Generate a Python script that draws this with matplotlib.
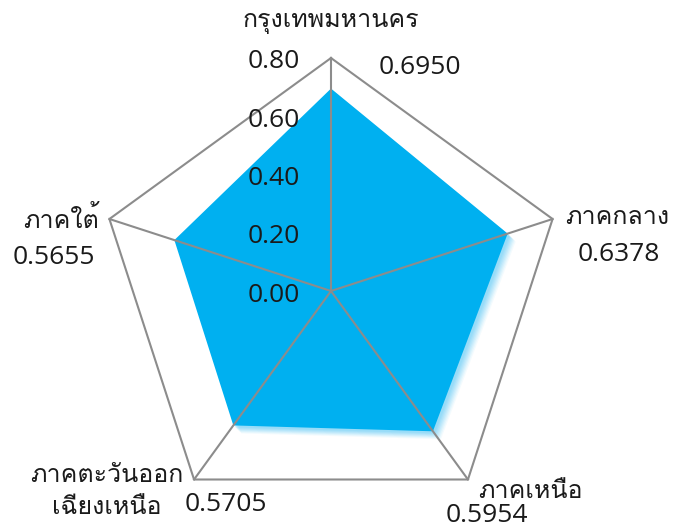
import numpy as np
import matplotlib
matplotlib.use("Agg")
import matplotlib.pyplot as plt
from matplotlib import font_manager
from matplotlib.ft2font import FT2Font
import matplotlib.transforms as mtransforms

categories = ["กรุงเทพมหานคร", "ภาคกลาง", "ภาคเหนือ", "ภาคตะวันออก\nเฉียงเหนือ", "ภาคใต้"]
values = [0.6950, 0.6378, 0.5954, 0.5705, 0.5655]
tick_values = [0.00, 0.20, 0.40, 0.60, 0.80]
tick_labels = ["0.00", "0.20", "0.40", "0.60", "0.80"]

# find a font with Thai glyphs
thai_fonts = []
seen = set()
for f in font_manager.fontManager.ttflist:
    if f.name in seen:
        continue
    try:
        cm = FT2Font(f.fname).get_charmap()
        if 0x0E01 in cm and 0x0E32 in cm:
            thai_fonts.append(f.name)
            seen.add(f.name)
    except Exception:
        pass
thai_fam = thai_fonts[:1] + ["DejaVu Sans"]
num_fam = ["Open Sans", "DejaVu Sans"]
plt.rcParams['font.family'] = thai_fam

W, H = 675, 532
fig = plt.figure(figsize=(W / 100, H / 100), dpi=100)
cx, cy, R = 331, 291, 233
ax = fig.add_axes([(cx - R) / W, (H - cy - R) / H, 2 * R / W, 2 * R / H], projection='polar')
ax.set_theta_offset(np.pi / 2)
ax.set_theta_direction(-1)
ax.set_ylim(0, 0.8)
ax.set_xticks([])
ax.set_yticks([])
ax.grid(False)
ax.spines['polar'].set_visible(False)
ax.patch.set_alpha(0)

n = len(categories)
theta = np.arange(n) * 2 * np.pi / n
tc = np.append(theta, theta[0])
vc = np.append(values, values[0])

# soft shadow
for dx, dy, a in [(8, -8, 0.08), (7, -7, 0.10), (6, -6, 0.12), (5, -5, 0.14),
                  (4, -4, 0.16), (3, -3, 0.18), (2, -2, 0.2)]:
    tr = ax.transData + mtransforms.Affine2D().translate(dx, dy)
    ax.fill(tc, vc, color='#66ccf5', alpha=a, lw=0, transform=tr, zorder=1)
ax.fill(tc, vc, color='#00B0F0', lw=0, zorder=2)

grid_color = '#8c8c8c'
outer = np.full(n + 1, 0.8)
ax.plot(tc, outer, color=grid_color, lw=1.5, zorder=3, clip_on=False)
for t in theta:
    ax.plot([t, t], [0, 0.8], color=grid_color, lw=1.5, zorder=3, clip_on=False)

fs_num = 19
fs_name = 18
tcol = '#1a1a1a'
for v, lab in zip(tick_values, tick_labels):
    ax.annotate(lab, xy=(0, v), xytext=(-31, -4), textcoords='offset pixels',
                ha='right', va='center', fontsize=fs_num, color=tcol, zorder=4,
                family=num_fam)

name_off = [(0, 36), (65, 1), (62, -12), (-87, -12), (-48, -1)]
val_off = [(89, -10), (66, -36), (19, -36), (32, -25), (-56, -39)]
for i in range(n):
    ax.annotate(categories[i], xy=(theta[i], 0.8), xytext=name_off[i], textcoords='offset pixels',
                ha='center', va='center', fontsize=fs_name, color=tcol, linespacing=1.5,
                annotation_clip=False)
    ax.annotate(f"{values[i]:.4f}", xy=(theta[i], 0.8), xytext=val_off[i], textcoords='offset pixels',
                ha='center', va='center', fontsize=fs_num, color=tcol, annotation_clip=False,
                family=num_fam)

fig.savefig("out.png", dpi=100)
